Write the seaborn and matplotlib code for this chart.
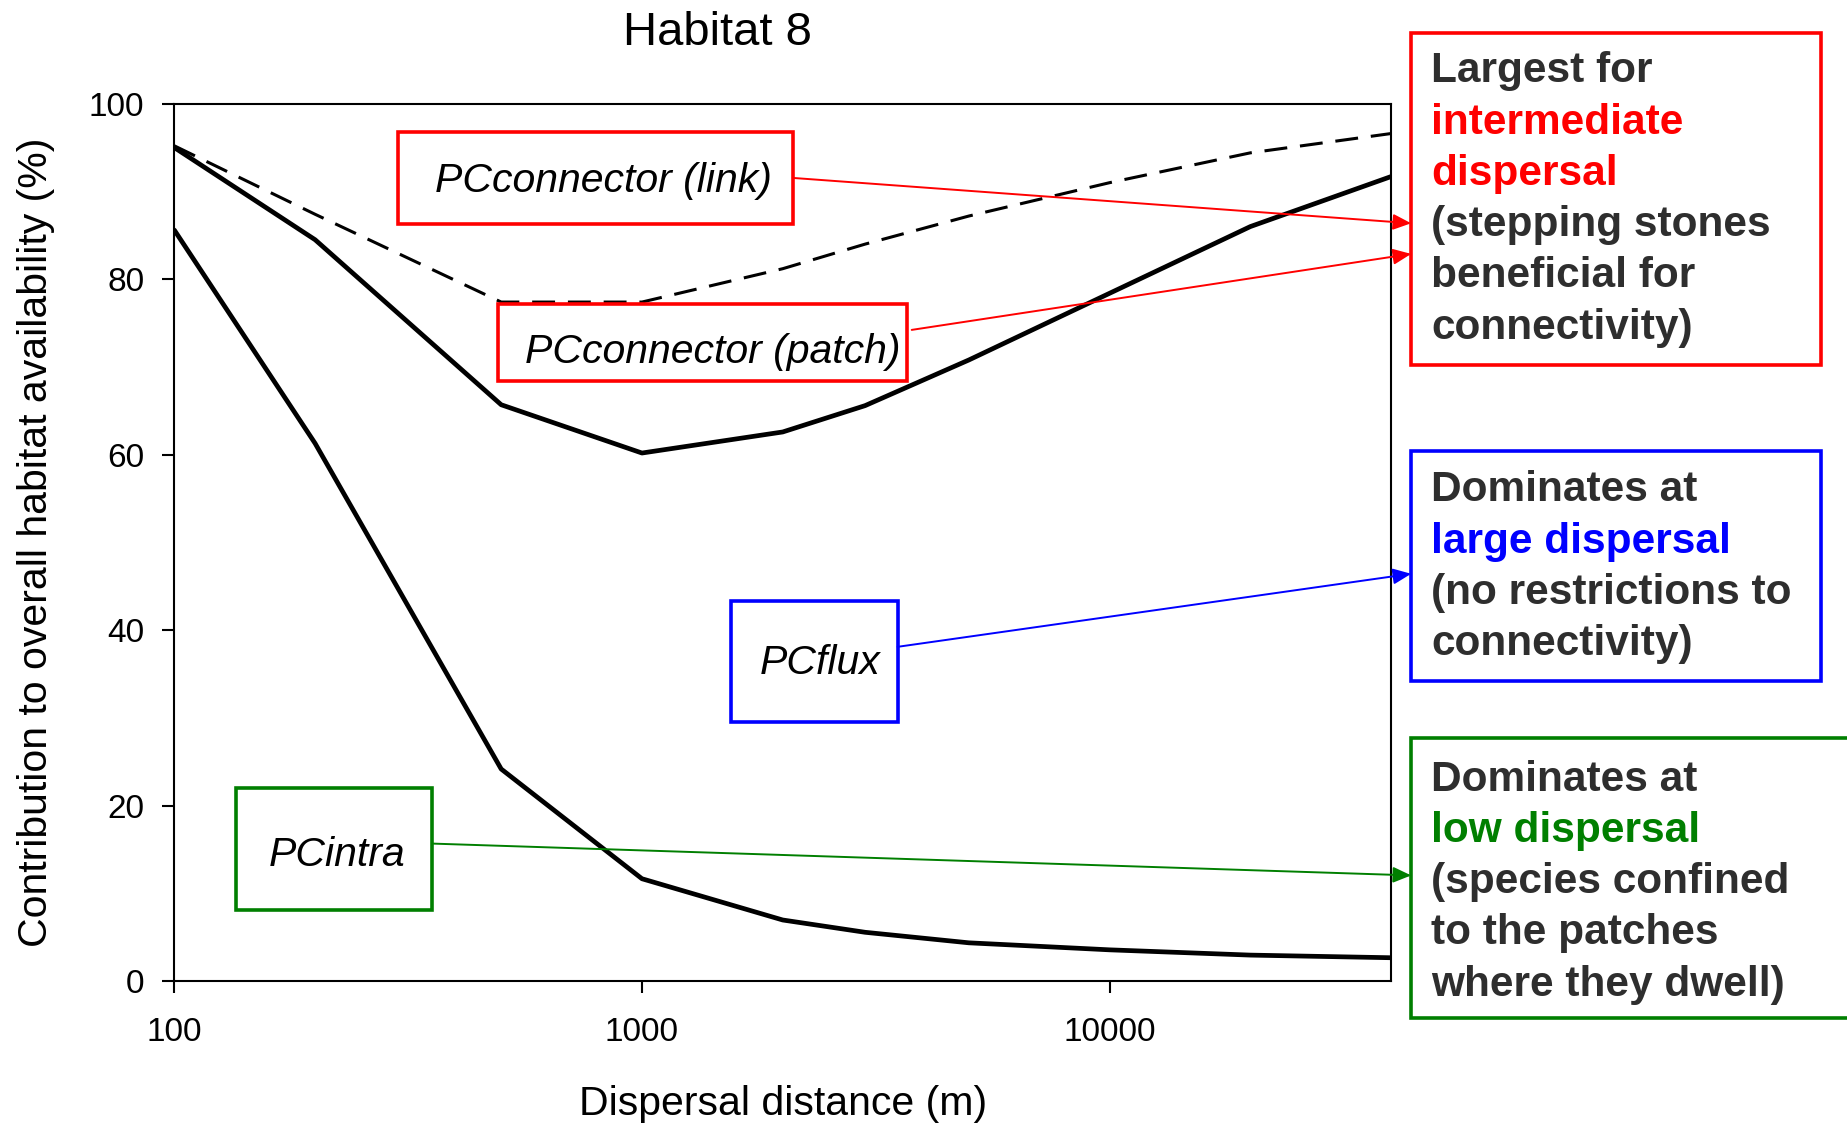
import matplotlib
matplotlib.use("Agg")
import matplotlib.pyplot as plt
from matplotlib.patches import Rectangle, FancyArrowPatch
from matplotlib.ticker import FixedLocator, NullLocator, FixedFormatter
from matplotlib.transforms import Affine2D
import pandas as pd
import seaborn as sns

# Dispersal distances (m) and cumulative contributions (%)
distance_m = [100, 200, 500, 1000, 2000, 3000, 5000, 10000, 20000, 40000]
pc_intra = [85.6, 61.3, 24.2, 11.7, 7.0, 5.6, 4.4, 3.6, 3.0, 2.7]
pc_intra_flux = [95.0, 84.5, 65.7, 60.2, 62.6, 65.6, 70.8, 78.4, 86.0, 91.7]
pc_intra_flux_patch = [95.2, 87.4, 77.4, 77.4, 81.2, 84.0, 87.2, 91.0, 94.4, 96.6]

x_ticks = [100, 1000, 10000]
x_tick_labels = ["100", "1000", "10000"]
y_ticks = [0, 20, 40, 60, 80, 100]

title_text = "Habitat 8"
x_label = "Dispersal distance (m)"
y_label = "Contribution to overall habitat availability (%)"

RED = "#ff0000"
BLUE = "#0000ff"
GREEN = "#007f00"
DARK = "#2e2e2e"

# Fraction labels inside the plot and the explanation panel on the right
inner_labels = [
    ("PCconnector (link)", RED),
    ("PCconnector (patch)", RED),
    ("PCflux", BLUE),
    ("PCintra", GREEN),
]
panel_lines = [
    [("Largest for", DARK), ("intermediate", RED), ("dispersal", RED),
     ("(stepping stones", DARK), ("beneficial for", DARK), ("connectivity)", DARK)],
    [("Dominates at", DARK), ("large dispersal", BLUE),
     ("(no restrictions to", DARK), ("connectivity)", DARK)],
    [("Dominates at", DARK), ("low dispersal", GREEN),
     ("(species confined", DARK), ("to the patches", DARK), ("where they dwell)", DARK)],
]

sns.set_theme(style="white")
plt.rcParams["font.family"] = ["Liberation Sans", "DejaVu Sans"]

fig = plt.figure(figsize=(18.47, 11.24), dpi=100)
fig.patch.set_facecolor("white")

# page layout units: 1568 x 954, origin at top-left
L = Affine2D().scale(1 / 1568, -1 / 954).translate(0, 1) + fig.transFigure

ax = fig.add_axes([148 / 1568, 1 - 833 / 954, (1181 - 148) / 1568, (833 - 88) / 954])
ax.set_facecolor("white")

df = pd.DataFrame({
    "distance": distance_m,
    "intra": pc_intra,
    "intra_flux": pc_intra_flux,
    "intra_flux_patch": pc_intra_flux_patch,
})

sns.lineplot(data=df, x="distance", y="intra", color="black", lw=3.4, ax=ax)
sns.lineplot(data=df, x="distance", y="intra_flux", color="black", lw=3.4, ax=ax)
sns.lineplot(data=df, x="distance", y="intra_flux_patch", color="black", lw=2.2, ax=ax)
ax.lines[-1].set_dashes([7.5, 4.2])

ax.set_xscale("log")
ax.set_xlim(100, 40000)
ax.set_ylim(0, 100)
ax.xaxis.set_major_locator(FixedLocator(x_ticks))
ax.xaxis.set_major_formatter(FixedFormatter(x_tick_labels))
ax.xaxis.set_minor_locator(NullLocator())
ax.yaxis.set_major_locator(FixedLocator(y_ticks))
ax.tick_params(axis="both", which="major", direction="out", length=8.5, width=1.5,
               color="black", labelsize=24, labelcolor="black")
ax.tick_params(axis="x", pad=17, bottom=True)
ax.tick_params(axis="y", pad=13, left=True)
for sp in ax.spines.values():
    sp.set_visible(True)
    sp.set_color("black")
    sp.set_linewidth(1.5)
ax.grid(False)

ax.set_xlabel(x_label, fontsize=29.5, color="black")
ax.set_ylabel(y_label, fontsize=29.5, color="black")
ax.xaxis.set_label_coords(0.5, -0.118)
ax.yaxis.set_label_coords(-0.098, 0.5)
ax.set_title(title_text, fontsize=34, color="black", x=0.446, y=1.067, pad=0)

# Boxed fraction labels (x0, y0, x1, y1, text centre x, baseline y)
inner_geom = [
    (338, 112, 673, 190, 512, 163),
    (423, 258, 770, 323, 605, 308),
    (621, 510, 762, 613, 696, 572),
    (200, 669, 367, 772, 286, 735),
]
for (txt, col), (x0, y0, x1, y1, tx, ty) in zip(inner_labels, inner_geom):
    fig.add_artist(Rectangle((x0, y0), x1 - x0, y1 - y0, transform=L,
                             facecolor="white", edgecolor=col, lw=2.6, zorder=5))
    fig.text(tx, ty, txt, transform=L, fontsize=29.5, style="italic", color="black",
             ha="center", va="baseline", zorder=6)

# Explanation panel boxes and text
panel_geom = [
    (1198, 28, 1546, 310, 70),
    (1198, 383, 1546, 578, 425.5),
    (1198, 626, 1600, 864, 671),
]
line_step = 43.5
for lines, (x0, y0, x1, y1, base), col in zip(panel_lines, panel_geom, [RED, BLUE, GREEN]):
    fig.add_artist(Rectangle((x0, y0), x1 - x0, y1 - y0, transform=L,
                             facecolor="white", edgecolor=col, lw=2.6, zorder=5,
                             clip_on=False))
    for i, (txt, tcol) in enumerate(lines):
        fig.text(1215, base + i * line_step, txt, transform=L, fontsize=30.5,
                 fontweight="bold", color=tcol, ha="left", va="baseline", zorder=6)

# Connector arrows from the labels to the panel
arrows = [
    ((673, 151), (1198, 189.5), RED),
    ((774, 280), (1198, 215.5), RED),
    ((762, 549), (1198, 487), BLUE),
    ((367, 716), (1198, 743), GREEN),
]
for start, end, col in arrows:
    fig.add_artist(FancyArrowPatch(start, end, transform=L,
                                   arrowstyle="-|>,head_length=0.55,head_width=0.24",
                                   mutation_scale=20, color=col, lw=1.4,
                                   shrinkA=0, shrinkB=0, zorder=7))

fig.savefig("out.png", dpi=100, facecolor="white")
